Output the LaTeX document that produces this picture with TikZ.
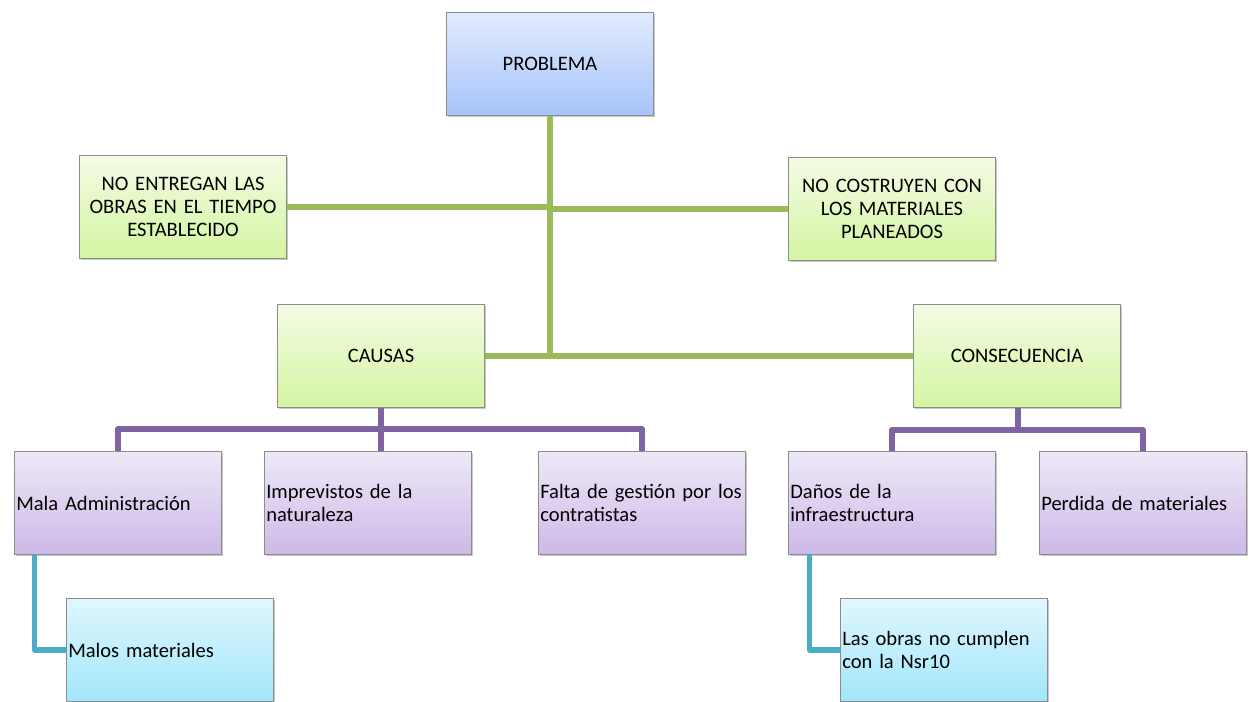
\documentclass[tikz,border=0pt]{standalone}
\usepackage{fontspec}
\setmainfont{Carlito}
\usetikzlibrary{shadows}
\definecolor{lineGreen}{HTML}{9BBB59}
\definecolor{linePurple}{HTML}{8064A2}
\definecolor{lineCyan}{HTML}{4BACC6}
\tikzset{
	box/.style = {draw = black!45, line width = 0.5pt, minimum width = 4.14cm, minimum height = 2.06cm,
		inner xsep = 1pt, font = \fontsize{11.7}{12.9}\selectfont,
		drop shadow = {shadow xshift = 0.9pt, shadow yshift = -0.9pt, opacity = 0.3, fill = black!70}},
	midbox/.style = {box, align = center, text width = 3.9cm},
	leftbox/.style = {box, align = left, text width = 4.07cm},
	problembox/.style = {midbox, top color = {rgb,255:red,225;green,235;blue,253}, bottom color = {rgb,255:red,166;green,196;blue,251}},
	greenbox/.style = {midbox, top color = {rgb,255:red,243;green,252;blue,228}, bottom color = {rgb,255:red,212;green,245;blue,162}},
	purplebox/.style = {leftbox, top color = {rgb,255:red,238;green,232;blue,248}, bottom color = {rgb,255:red,205;green,185;blue,232}},
	cyanbox/.style = {leftbox, top color = {rgb,255:red,224;green,247;blue,254}, bottom color = {rgb,255:red,162;green,230;blue,251}},
	link/.style = {line width = 3pt, line join = round}
}

\begin{document}
\begin{tikzpicture}[x = 0.02cm, y = -0.02cm]
	\useasboundingbox (0,0) rectangle (1254,701);
	% boxes
	\node [problembox] (prob) at (550,64) {PROBLEMA};
	\node [greenbox] (entregan) at (183,207) {NO ENTREGAN LAS\\OBRAS EN EL TIEMPO\\ESTABLECIDO};
	\node [greenbox] (costruyen) at (892,209) {NO COSTRUYEN CON\\LOS MATERIALES\\PLANEADOS};
	\node [greenbox] (causas) at (381,356) {CAUSAS};
	\node [greenbox] (consec) at (1017,356) {CONSECUENCIA};
	\node [purplebox] (mala) at (118,503) {Mala Administración};
	\node [purplebox] (imprev) at (368,503) {Imprevistos de la\\naturaleza};
	\node [purplebox] (falta) at (642,503) {\mbox{Falta de gestión por los}\\contratistas};
	\node [purplebox] (danos) at (892,503) {Daños de la\\infraestructura};
	\node [purplebox] (perdida) at (1143,503) {Perdida de materiales};
	\node [cyanbox] (malos) at (170,650) {Malos materiales};
	\node [cyanbox] (obras) at (944,650) {Las obras no cumplen\\con la Nsr10};
	% joints
	\coordinate (cjoin) at (381,429);
	\coordinate (kjoin) at (1018,430);
	% green links
	\draw [link, color = lineGreen] (prob.south) -- (prob.south |- causas.east);
	\draw [link, color = lineGreen] (causas.east) -- (consec.west);
	\draw [link, color = lineGreen] (entregan.east) -- (entregan.east -| prob.south);
	\draw [link, color = lineGreen] (costruyen.west) -- (costruyen.west -| prob.south);
	% purple links
	\draw [link, color = linePurple] (causas.south) -- (causas.south |- imprev.north);
	\draw [link, color = linePurple] (mala.north) |- (cjoin) -| (falta.north);
	\draw [link, color = linePurple] (consec.south -| kjoin) -- (kjoin);
	\draw [link, color = linePurple] (danos.north) |- (kjoin) -| (perdida.north);
	% cyan links
	\draw [link, color = lineCyan] ([xshift = 0.41cm]mala.south west) |- (malos.west);
	\draw [link, color = lineCyan] ([xshift = 0.43cm]danos.south west) |- (obras.west);
\end{tikzpicture}
\end{document}
